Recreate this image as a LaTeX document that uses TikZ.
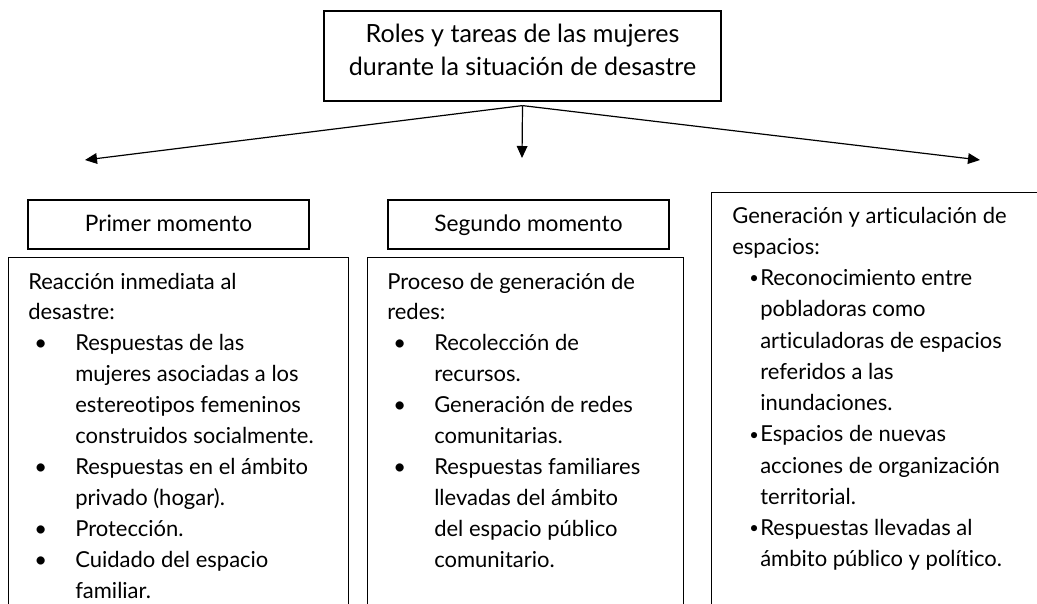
\documentclass[tikz,border=0pt]{standalone}
\usepackage{fontspec}
\usepackage{graphicx}
\setmainfont{Lato}[Ligatures=NoCommon]
\usetikzlibrary{arrows.meta}
\newdimen\pxl \pxl=0.75pt
\newcommand{\bigbul}{\makebox[47\pxl][l]{\hspace*{6\pxl}\textbullet}}
\newcommand{\bigind}{\hspace*{47\pxl}}
\newcommand{\smallbul}{\makebox[28\pxl][l]{\hspace*{17\pxl}\raisebox{1.3pt}{\scalebox{0.75}{\textbullet}}}}
\newcommand{\smallind}{\hspace*{28\pxl}}
\newcommand{\lines}[1]{\begin{tabular}[t]{@{}l@{}}#1\end{tabular}}
\begin{document}
\begin{tikzpicture}[x=0.75pt,y=-0.75pt,
  box/.style={draw,line width=0.9pt,inner sep=0pt},
  head/.style={box,minimum width=210.75pt,minimum height=36.75pt,text height=13pt,text depth=3.25pt,font=\fontsize{17}{23.6}\selectfont},
  txt/.style={font=\fontsize{16.5}{23.2}\selectfont,inner sep=0pt,anchor=base west},
  arr/.style={line width=0.9pt,-{Triangle[length=9pt,width=8pt]}}]
\useasboundingbox (0,0) rectangle (1037,603);
\clip (0,0) rectangle (1037,603);
% title
\node[box,minimum width=297.75pt,minimum height=67.5pt,
  font=\fontsize{18.8}{24.75}\selectfont] (roles) at (522.5,56)
  {\raisebox{3pt}[\height][\depth]{\begin{tabular}{@{}c@{}}Roles y tareas de las mujeres\\durante la situación de desastre\end{tabular}}};
% moments
\node[head] (primer) at (168.5,224.5) {Primer momento};
\node[head] (segundo) at (528.5,224.5) {Segundo momento};
% open boxes (cut at the bottom)
\node[box,anchor=north west,minimum width=255pt,minimum height=300pt] (reaccion) at (8,257) {};
\node[box,anchor=north west,minimum width=237pt,minimum height=300pt] (proceso) at (367,257) {};
\node[box,anchor=north west,minimum width=261.75pt,minimum height=350pt] (espacios) at (711,192) {};
% texts
\node[txt] (reacciontxt) at (28,289) {\lines{Reacción inmediata al\\
  desastre:\\
  \bigbul Respuestas de las\\
  \bigind mujeres asociadas a los\\
  \bigind estereotipos femeninos\\
  \bigind construidos socialmente.\\
  \bigbul Respuestas en el ámbito\\
  \bigind privado (hogar).\\
  \bigbul Protección.\\
  \bigbul Cuidado del espacio\\
  \bigind familiar.}};
\node[txt] (procesotxt) at (387,289) {\lines{Proceso de generación de\\
  redes:\\
  \bigbul Recolección de\\
  \bigind recursos.\\
  \bigbul Generación de redes\\
  \bigind comunitarias.\\
  \bigbul Respuestas familiares\\
  \bigind llevadas del ámbito\\
  \bigind del espacio público\\
  \bigind comunitario.}};
\node[txt,font=\fontsize{16.5}{23.45}\selectfont] (espaciostxt) at (732,223) {\lines{Generación y articulación de\\
  espacios:\\
  \smallbul Reconocimiento entre\\
  \smallind pobladoras como\\
  \smallind articuladoras de espacios\\
  \smallind referidos a las\\
  \smallind inundaciones.\\
  \smallbul Espacios de nuevas\\
  \smallind acciones de organización\\
  \smallind territorial.\\
  \smallbul Respuestas llevadas al\\
  \smallind ámbito público y político.}};
% arrows
\coordinate (fork) at ([yshift=-3pt]roles.south);
\coordinate (tipL) at (85,160);
\coordinate (tipM) at (522,158);
\coordinate (tipR) at (980,160);
\draw[arr] (fork) -- (tipL);
\draw[arr] (fork) -- (tipM);
\draw[arr] (fork) -- (tipR);
\end{tikzpicture}
\end{document}
